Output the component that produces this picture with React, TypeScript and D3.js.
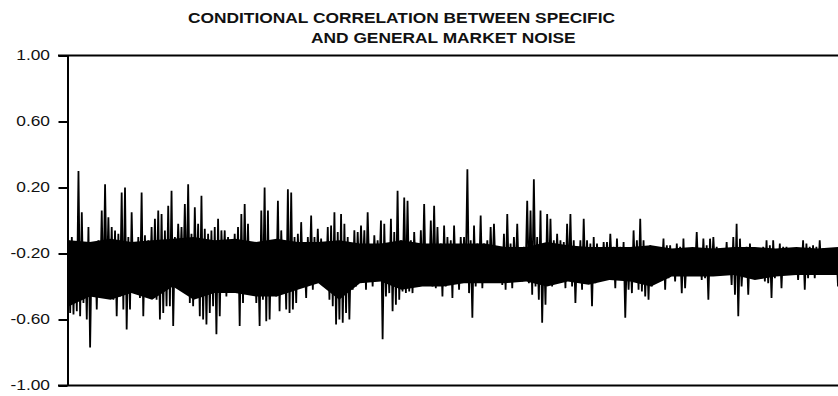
import React, { useEffect, useRef } from "react";
import * as d3 from "d3";

// per-column highs and lows, left to right
const highs = [
  -0.12, -0.1, -0.14, 0.3, 0.05, -0.16, -0.04, -0.15, -0.14, -0.12, 0.06, 0.22,
  0.02, -0.04, -0.06, -0.08, 0.17, 0.2, -0.1, 0.05, -0.14, -0.1, 0.17, -0.09,
  -0.12, -0.04, 0.01, 0.06, 0.04, -0.06, 0.09, 0.18, -0.1, -0.02, -0.04, 0.1,
  0.22, -0.08, 0.08, -0.02, 0.15, -0.05, -0.08, -0.06, -0.04, 0.01, -0.06, -0.06,
  -0.1, -0.14, -0.08, -0.04, 0.04, 0.1, -0.02, -0.16, -0.15, -0.18, 0.06, 0.2,
  0.06, -0.14, -0.16, 0.12, -0.06, -0.16, 0.19, 0.17, -0.1, -0.08, -0.01, -0.22,
  -0.1, 0.03, -0.1, -0.05, -0.11, -0.2, -0.04, -0.03, 0.05, -0.07, 0.04, -0.02,
  -0.1, -0.18, -0.06, -0.07, -0.03, -0.06, 0.05, -0.16, -0.09, -0.12, 0.0, -0.02,
  -0.14, 0.01, -0.07, 0.18, -0.12, 0.14, 0.12, -0.12, -0.07, -0.14, -0.06, 0.1,
  -0.16, 0.0, 0.09, -0.04, -0.14, -0.03, -0.1, -0.12, -0.03, -0.15, -0.1, -0.1,
  0.31, -0.12, -0.03, -0.14, 0.03, -0.14, -0.12, -0.04, -0.02, -0.22, -0.18, -0.08,
  0.04, -0.14, -0.1, -0.02, -0.22, -0.16, 0.12, 0.06, 0.25, -0.1, 0.06, -0.14,
  0.04, 0.01, -0.12, -0.08, -0.12, -0.13, -0.02, 0.04, -0.12, -0.18, -0.12, 0.01,
  -0.12, -0.14, -0.1, -0.14, -0.17, -0.13, -0.13, -0.08, -0.16, -0.11, -0.16, -0.13,
  -0.18, -0.17, -0.06, -0.12, 0.01, -0.12, -0.16, -0.15, -0.21, -0.2, -0.18, -0.11,
  -0.15, -0.15, -0.19, -0.14, -0.16, -0.11, -0.2, -0.18, -0.19, -0.07, -0.18, -0.11,
  -0.15, -0.11, -0.1, -0.16, -0.18, -0.17, -0.13, -0.2, -0.1, -0.02, -0.11, -0.2,
  -0.16, -0.14, -0.2, -0.17, -0.22, -0.16, -0.12, -0.15, -0.12, -0.18, -0.14, -0.16,
  -0.16, -0.19, -0.22, -0.2, -0.18, -0.12, -0.14, -0.16, -0.15, -0.16, -0.12, -0.17,
  -0.17, -0.19, -0.19, -0.17,
];

const lows = [
  -0.56, -0.57, -0.55, -0.58, -0.5, -0.6, -0.77, -0.42, -0.54, -0.44, -0.46, -0.4,
  -0.42, -0.48, -0.58, -0.46, -0.54, -0.66, -0.54, -0.4, -0.41, -0.47, -0.58, -0.44,
  -0.38, -0.44, -0.48, -0.6, -0.56, -0.52, -0.52, -0.64, -0.34, -0.3, -0.36, -0.44,
  -0.5, -0.52, -0.4, -0.58, -0.6, -0.63, -0.56, -0.52, -0.69, -0.58, -0.32, -0.46,
  -0.33, -0.38, -0.42, -0.64, -0.5, -0.44, -0.44, -0.42, -0.5, -0.64, -0.48, -0.61,
  -0.6, -0.4, -0.46, -0.55, -0.36, -0.54, -0.56, -0.54, -0.5, -0.4, -0.36, -0.47,
  -0.35, -0.42, -0.36, -0.34, -0.35, -0.36, -0.48, -0.52, -0.63, -0.6, -0.62, -0.56,
  -0.6, -0.42, -0.4, -0.35, -0.32, -0.42, -0.31, -0.4, -0.3, -0.31, -0.72, -0.46,
  -0.44, -0.55, -0.51, -0.48, -0.43, -0.44, -0.43, -0.44, -0.32, -0.4, -0.38, -0.39,
  -0.38, -0.4, -0.41, -0.38, -0.46, -0.4, -0.37, -0.47, -0.36, -0.42, -0.32, -0.35,
  -0.44, -0.59, -0.4, -0.36, -0.41, -0.3, -0.37, -0.34, -0.32, -0.36, -0.39, -0.42,
  -0.37, -0.41, -0.33, -0.35, -0.37, -0.33, -0.38, -0.45, -0.4, -0.48, -0.62, -0.51,
  -0.39, -0.4, -0.35, -0.33, -0.36, -0.41, -0.34, -0.4, -0.5, -0.36, -0.42, -0.37,
  -0.37, -0.52, -0.38, -0.35, -0.33, -0.31, -0.33, -0.3, -0.41, -0.34, -0.36, -0.59,
  -0.42, -0.44, -0.36, -0.42, -0.43, -0.46, -0.48, -0.4, -0.3, -0.28, -0.3, -0.42,
  -0.35, -0.31, -0.37, -0.33, -0.44, -0.41, -0.33, -0.28, -0.3, -0.32, -0.36, -0.35,
  -0.48, -0.33, -0.29, -0.3, -0.28, -0.31, -0.33, -0.39, -0.45, -0.58, -0.4, -0.32,
  -0.45, -0.29, -0.32, -0.3, -0.35, -0.37, -0.38, -0.47, -0.35, -0.32, -0.41, -0.3,
  -0.31, -0.28, -0.31, -0.36, -0.32, -0.42, -0.35, -0.32, -0.35, -0.33, -0.3, -0.33,
  -0.31, -0.3, -0.33, -0.4,
];

// the solid part of the band, read every ~20px
const coreTop = [
  -0.12, -0.13, -0.11, -0.13, -0.12, -0.11, -0.1, -0.12, -0.11,
  -0.13, -0.11, -0.13, -0.13, -0.12, -0.14, -0.14, -0.12, -0.14, -0.14,
  -0.14, -0.14, -0.16, -0.16, -0.13, -0.15, -0.16, -0.16, -0.16,
  -0.15, -0.17, -0.16, -0.17, -0.16, -0.16, -0.17, -0.16, -0.17, -0.16,
];
const coreBottom = [
  -0.52, -0.46, -0.48, -0.44, -0.48, -0.4, -0.48, -0.44, -0.44,
  -0.46, -0.46, -0.42, -0.38, -0.48, -0.38, -0.37, -0.42, -0.4, -0.4,
  -0.38, -0.38, -0.38, -0.37, -0.4, -0.37, -0.39, -0.36, -0.37,
  -0.4, -0.34, -0.34, -0.34, -0.33, -0.36, -0.34, -0.33, -0.33, -0.33,
];

const yTicks = [-1, -0.6, -0.2, 0.2, 0.6, 1];
const titleLines = [
  "CONDITIONAL CORRELATION BETWEEN SPECIFIC",
  "AND GENERAL MARKET NOISE",
];

const App = () => {
  const svgRef = useRef(null);

  useEffect(() => {
    const width = 838;
    const height = 396;
    const font = "'Liberation Sans', Arial, sans-serif";
    const stretch = 1.24;

    const series = highs.flatMap((h, i) => [h, lows[i]]);

    const svg = d3.select(svgRef.current);
    svg.selectAll("*").remove();
    svg.attr("width", width).attr("height", height);

    const x = d3
      .scaleLinear()
      .domain([0, series.length - 1])
      .range([68.5, 838]);

    const xCore = d3
      .scaleLinear()
      .domain([0, coreTop.length - 1])
      .range([69, 838]);

    const y = d3.scaleLinear().domain([-1, 1]).range([385.5, 55.5]);

    // title, glyphs are wide in the original so stretch them
    svg
      .selectAll(".title")
      .data(titleLines)
      .enter()
      .append("text")
      .attr("transform", (d, i) =>
        `translate(${i === 0 ? 188 : 311},${i === 0 ? 22.5 : 43}) scale(${stretch},1)`
      )
      .attr("font-family", font)
      .attr("font-weight", "bold")
      .attr("font-size", 14)
      .attr("fill", "#111")
      .text((d) => d);

    const axis = svg
      .append("g")
      .attr("transform", "translate(67.5,0)")
      .call(
        d3
          .axisLeft(y)
          .tickValues(yTicks)
          .tickFormat((d) => d.toFixed(2))
          .tickSize(9)
          .tickSizeOuter(0)
          .tickPadding(5)
      );

    axis.select(".domain").attr("stroke", "#000").attr("stroke-width", 2);
    axis.selectAll(".tick line").attr("stroke", "#000").attr("stroke-width", 2);
    axis
      .selectAll(".tick text")
      .attr("x", -17.5 / stretch)
      .attr("transform", `scale(${stretch},1)`)
      .attr("fill", "#111")
      .style("font-family", font)
      .style("font-size", "14px");

    // top and bottom frame lines
    svg
      .selectAll(".frame")
      .data([1, -1])
      .enter()
      .append("line")
      .attr("x1", 58)
      .attr("x2", width)
      .attr("y1", (d) => y(d))
      .attr("y2", (d) => y(d))
      .attr("stroke", "#000")
      .attr("stroke-width", 2);

    const core = d3
      .area()
      .x((d, i) => xCore(i))
      .y0((d, i) => y(coreBottom[i]))
      .y1((d) => y(d));

    svg.append("path").datum(coreTop).attr("fill", "#000").attr("d", core);

    const line = d3
      .line()
      .x((d, i) => x(i))
      .y((d) => y(d));

    svg
      .append("path")
      .datum(series)
      .attr("fill", "none")
      .attr("stroke", "#000")
      .attr("stroke-width", 1.8)
      .attr("stroke-linejoin", "miter")
      .attr("d", line);
  }, []);

  return (
    <svg
      ref={svgRef}
      style={{ position: "absolute", left: 0, top: 0, background: "#fff" }}
    ></svg>
  );
};

export default App;
